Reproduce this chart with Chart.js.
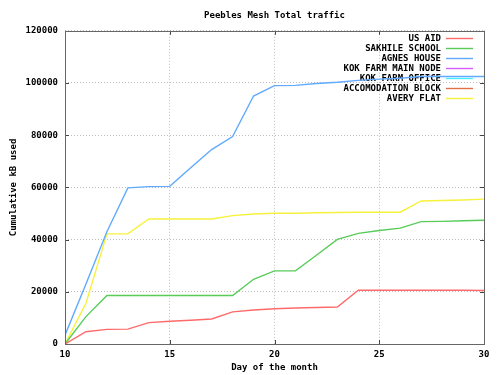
<!DOCTYPE html>
<html>
<head>
<meta charset="utf-8">
<script src="https://cdn.jsdelivr.net/npm/chart.js@4/dist/chart.umd.min.js"></script>
<style>
html,body{margin:0;padding:0;background:#fff;}
canvas{display:block;}
</style>
</head>
<body>
<canvas id="c" width="500" height="375"></canvas>
<script>
const days = [10,11,12,13,14,15,16,17,18,19,20,21,22,23,24,25,26,27,28,29,30];
const usAid = [0,4700,5600,5700,8200,8700,9100,9600,12300,13000,13500,13800,14000,14200,20600,20600,20600,20600,20600,20600,20500];
const sakhileSchool = [0,10500,18600,18600,18600,18600,18600,18600,18600,24800,28000,28000,34000,40100,42400,43500,44400,46900,47000,47200,47400];
const agnesHouse = [3400,23000,43000,59800,60300,60400,67500,74500,79500,95000,99000,99100,99800,100300,101000,101500,101800,102500,102500,102500,102500];
const kokFarmMainNode = [];
const kokFarmOffice = [];
const accomodationBlock = [];
const averyFlat = [0,15600,42200,42200,47900,47900,47900,47900,49200,49800,50100,50100,50300,50400,50500,50500,50500,54800,55000,55200,55500];
const xTicks = [10,15,20,25,30];
const yTicks = [0,20000,40000,60000,80000,100000,120000];

const seriesNames = ["US AID","SAKHILE SCHOOL","AGNES HOUSE","KOK FARM MAIN NODE","KOK FARM OFFICE","ACCOMODATION BLOCK","AVERY FLAT"];
const seriesValues = [usAid, sakhileSchool, agnesHouse, kokFarmMainNode, kokFarmOffice, accomodationBlock, averyFlat];
const seriesColors = ["#ff6a6a","#58cc58","#60aaff","#d65cff","#4cf0ff","#e07048","#f6f23c"];

const FONT = "'DejaVu Sans Mono', monospace";

const datasets = seriesNames.map((name, i) => ({
  label: name,
  data: seriesValues[i].map((v, j) => ({x: days[j], y: v})),
  borderColor: seriesColors[i],
  backgroundColor: seriesColors[i],
  borderWidth: 1.4,
  pointRadius: 0,
  tension: 0,
  fill: false
}));

const framePlugin = {
  id: 'frame',
  afterLayout(chart) {
    // centre the title over the plot area, as in the reference
    if (chart.titleBlock) {
      chart.titleBlock.left = chart.chartArea.left;
      chart.titleBlock.right = chart.chartArea.right;
    }
  },
  beforeDatasetsDraw(chart) {
    const ctx = chart.ctx;
    const a = chart.chartArea;
    ctx.save();
    ctx.font = "bold 9px " + FONT;
    ctx.textAlign = 'right';
    ctx.textBaseline = 'middle';
    chart.data.datasets.forEach((ds, i) => {
      const y = a.top + 7.5 + i * 10;
      ctx.fillStyle = '#000';
      ctx.fillText(ds.label, a.right - 43, y);
      ctx.strokeStyle = ds.borderColor;
      ctx.lineWidth = 1.4;
      ctx.beginPath();
      ctx.moveTo(a.right - 38, Math.round(y) + 0.5);
      ctx.lineTo(a.right - 11, Math.round(y) + 0.5);
      ctx.stroke();
    });
    ctx.restore();
  },
  afterDatasetsDraw(chart) {
    const ctx = chart.ctx;
    const a = chart.chartArea;
    const xs = chart.scales.x, ys = chart.scales.y;
    ctx.save();
    ctx.strokeStyle = '#444';
    ctx.lineWidth = 1;
    ctx.beginPath();
    xTicks.forEach(v => {
      const px = Math.round(xs.getPixelForValue(v)) + 0.5;
      ctx.moveTo(px, a.bottom); ctx.lineTo(px, a.bottom - 4);
      ctx.moveTo(px, a.top); ctx.lineTo(px, a.top + 4);
    });
    yTicks.forEach(v => {
      const py = Math.round(ys.getPixelForValue(v)) + 0.5;
      ctx.moveTo(a.left, py); ctx.lineTo(a.left + 4, py);
      ctx.moveTo(a.right, py); ctx.lineTo(a.right - 4, py);
    });
    ctx.stroke();
    ctx.strokeStyle = '#666';
    ctx.strokeRect(Math.round(a.left) + 0.5, Math.round(a.top) + 0.5, Math.round(a.right - a.left), Math.round(a.bottom - a.top));
    ctx.restore();
  }
};

new Chart(document.getElementById('c'), {
  type: 'line',
  data: { datasets },
  options: {
    responsive: false,
    animation: false,
    layout: { padding: { left: 0, right: 16, top: 0, bottom: 0 } },
    plugins: {
      legend: { display: false },
      tooltip: { enabled: false },
      title: {
        display: true,
        text: 'Peebles Mesh Total traffic',
        color: '#000',
        font: { family: FONT, size: 9, weight: 'bold' },
        padding: { top: 10, bottom: 10 }
      }
    },
    scales: {
      x: {
        type: 'linear',
        min: 10, max: 30,
        afterFit(s) { s.height = 31; },
        afterBuildTicks(s) { s.ticks = xTicks.map(v => ({value: v})); },
        ticks: { color: '#000', font: { family: FONT, size: 9, weight: 'bold' }, padding: 5, maxRotation: 0 },
        grid: { color: '#bdbdbd', drawTicks: false, lineWidth: 1 },
        border: { display: false, dash: [1, 2] },
        title: { display: true, text: 'Day of the month', color: '#000', font: { family: FONT, size: 9, weight: 'bold' }, padding: { top: 0, bottom: 2 } }
      },
      y: {
        type: 'linear',
        min: 0, max: 120000,
        afterFit(s) { s.width = 65; },
        afterBuildTicks(s) { s.ticks = yTicks.map(v => ({value: v})); },
        ticks: { color: '#000', font: { family: FONT, size: 9, weight: 'bold' }, padding: 7, callback: v => String(v) },
        grid: { color: '#bdbdbd', drawTicks: false, lineWidth: 1 },
        border: { display: false, dash: [1, 2] },
        title: { display: true, text: 'Cumulative kB used', color: '#000', font: { family: FONT, size: 9, weight: 'bold' }, padding: { top: 8.6, bottom: 0 } }
      }
    }
  },
  plugins: [framePlugin]
});
</script>
</body>
</html>
